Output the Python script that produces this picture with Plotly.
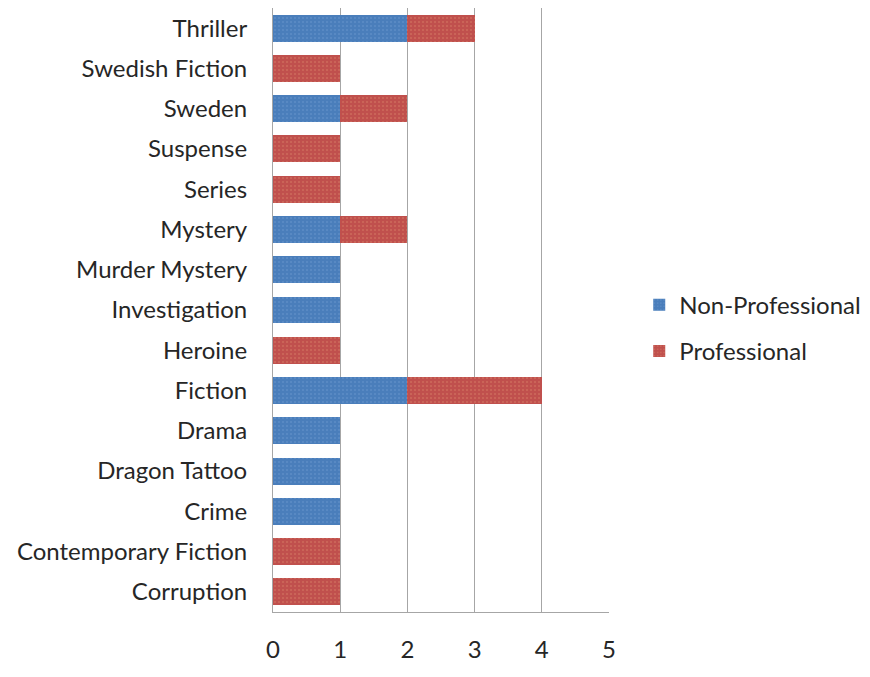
import plotly.graph_objects as go

categories = ["Corruption", "Contemporary Fiction", "Crime", "Dragon Tattoo", "Drama",
              "Fiction", "Heroine", "Investigation", "Murder Mystery", "Mystery",
              "Series", "Suspense", "Sweden", "Swedish Fiction", "Thriller"]
non_professional = [0, 0, 1, 1, 1, 2, 0, 1, 1, 1, 0, 0, 1, 0, 2]
professional = [1, 1, 0, 0, 0, 2, 1, 0, 0, 1, 1, 1, 1, 1, 1]
x_ticks = [0, 1, 2, 3, 4, 5]

FONT = "Lato, Carlito, Calibri, sans-serif"

fig = go.Figure()
fig.add_trace(go.Bar(
    y=categories, x=non_professional, name="Non-Professional", orientation="h",
    legendgroup="np",
    marker=dict(color="#4a7ebb", line=dict(width=0),
                pattern=dict(shape=".", fgcolor="#6f9ad0", size=4, solidity=0.2)),
))
fig.add_trace(go.Bar(
    y=categories, x=professional, name="Professional", orientation="h",
    legendgroup="p",
    marker=dict(color="#c0504d", line=dict(width=0),
                pattern=dict(shape=".", fgcolor="#d9846a", size=4, solidity=0.2)),
))

fig.update_layout(
    width=870,
    height=677,
    autosize=False,
    barmode="stack",
    bargap=0.33,
    margin=dict(l=265, r=269, t=0, b=73),
    plot_bgcolor="white",
    paper_bgcolor="white",
    font=dict(family=FONT, size=24, color="#262626"),
    xaxis=dict(
        range=[0, 5],
        tickvals=x_ticks,
        showgrid=True,
        gridcolor="#a6a6a6",
        gridwidth=1,
        zeroline=False,
        showline=True,
        linecolor="#a6a6a6",
        ticks="",
        ticklabelstandoff=16,
        tickfont=dict(size=24, family=FONT),
    ),
    yaxis=dict(
        showgrid=False,
        showline=True,
        linecolor="#a6a6a6",
        ticks="",
        ticklabelstandoff=20,
        tickfont=dict(size=24, family=FONT),
    ),
    legend=dict(
        x=1.09, y=0.47, xanchor="left", yanchor="middle",
        font=dict(size=24, family=FONT),
        traceorder="grouped",
        tracegroupgap=12,
        itemwidth=30,
    ),
)

fig.write_html("out.html")
